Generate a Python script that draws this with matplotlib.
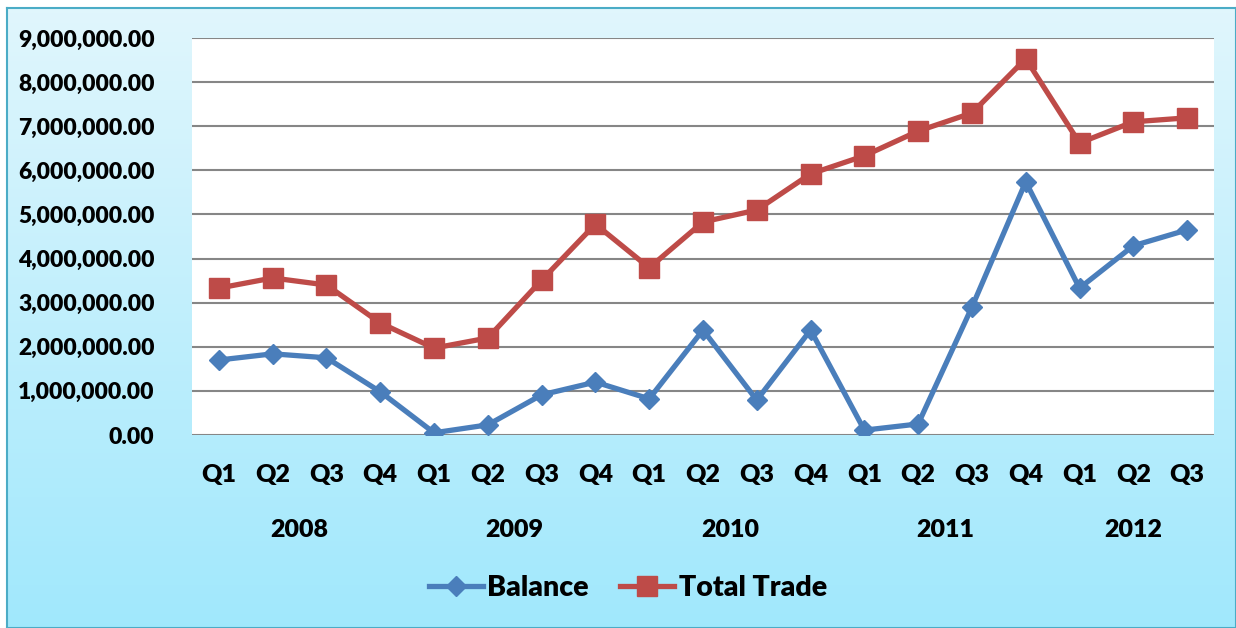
'''
Quarterly balance and total trade, 2008 - 2012
'''
import numpy as np
import matplotlib
matplotlib.use('Agg')
import matplotlib.pyplot as plt
from matplotlib.ticker import FuncFormatter

plt.rcParams['font.family'] = ['Lato', 'DejaVu Sans']
plt.rcParams['font.weight'] = 'heavy'

# data
years = ['2008', '2009', '2010', '2011', '2012']
quartersPerYear = [4, 4, 4, 4, 3]
balance = [1.70e6, 1.84e6, 1.75e6, 0.98e6,
           0.05e6, 0.23e6, 0.91e6, 1.20e6,
           0.82e6, 2.38e6, 0.79e6, 2.38e6,
           0.11e6, 0.25e6, 2.90e6, 5.74e6,
           3.33e6, 4.29e6, 4.65e6]
totalTrade = [3.33e6, 3.56e6, 3.40e6, 2.54e6,
              1.97e6, 2.20e6, 3.51e6, 4.78e6,
              3.79e6, 4.83e6, 5.10e6, 5.92e6,
              6.33e6, 6.89e6, 7.30e6, 8.53e6,
              6.62e6, 7.10e6, 7.19e6]

def main():
    W, H = 1236, 628
    fig = plt.figure(figsize=(W/100, H/100), dpi=100)

    # gradient background inside the framed area
    bg = fig.add_axes([7/W, 0, 1 - 7/W, 1 - 8/H])
    top = np.array([0.88, 0.965, 0.99])
    bot = np.array([0.63, 0.91, 0.99])
    t = np.linspace(0, 1, 256)[:, None]
    grad = top[None, :] * (1 - t) + bot[None, :] * t
    bg.imshow(grad[:, None, :], aspect='auto', extent=[0, 1, 0, 1])
    bg.set_xticks([])
    bg.set_yticks([])
    for s in bg.spines.values():
        s.set_color('#4BACC6')
        s.set_linewidth(1.5)

    ax = fig.add_axes([192/W, 1 - 435/H, (1214 - 192)/W, (435 - 38)/H])
    ax.set_facecolor('white')

    labels = []
    for n in quartersPerYear:
        labels += [f'Q{i+1}' for i in range(n)]
    x = np.arange(len(labels))

    ax.plot(x, balance, color='#4A7EBB', lw=3.8, marker='D', ms=10.5,
            label='Balance', zorder=3)
    ax.plot(x, totalTrade, color='#BE4B48', lw=3.8, marker='s', ms=14,
            label='Total Trade', zorder=3)

    ax.set_xlim(-0.5, len(labels) - 0.5)
    ax.set_ylim(0, 9e6)
    ax.set_yticks(np.arange(0, 9.1e6, 1e6))
    ax.yaxis.set_major_formatter(FuncFormatter(lambda v, p: f'{v:,.2f}'))
    ax.grid(axis='y', color='#868686', lw=1.5)
    ax.set_axisbelow(True)
    for s in ax.spines.values():
        s.set_visible(False)
    ax.tick_params(axis='y', length=0, pad=27, labelsize=16.5)
    ax.set_xticks(x)
    ax.set_xticklabels(labels)
    ax.tick_params(axis='x', length=0, pad=21, labelsize=18)

    # year labels centred under each group of quarters
    start = 0
    for yr, n in zip(years, quartersPerYear):
        mid = start + (n - 1) / 2
        ax.text(mid, -0.24, yr, transform=ax.get_xaxis_transform(),
                ha='center', va='center', fontsize=18)
        start += n

    fig.legend(loc='center', bbox_to_anchor=(628/W, 1 - 588/H), ncol=2,
               frameon=False, fontsize=20.5, handlelength=1.9,
               columnspacing=1.1, handletextpad=0.15)

    fig.savefig('out.png', dpi=100)

if __name__ == '__main__':
    main()
